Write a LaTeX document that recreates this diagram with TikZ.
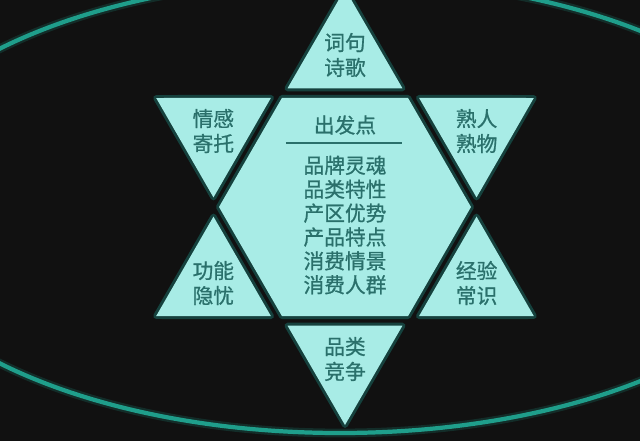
\documentclass[tikz,border=0pt]{standalone}
\usepackage{fontspec}
\setmainfont{Noto Sans CJK SC}[FakeBold=0.8]
\usetikzlibrary{calc}
\definecolor{bgcol}{HTML}{111111}
\definecolor{ringcol}{HTML}{1F9E8B}
\definecolor{starcol}{HTML}{A8ECE6}
\definecolor{glowcol}{HTML}{1B8A7F}
\definecolor{txtcol}{HTML}{2A706B}

\begin{document}
\begin{tikzpicture}[x=0.02cm, y=0.02cm]
			\tikzstyle{every node} = [font = \fontsize{11.8}{14.2}\selectfont, text = txtcol, align = center, inner sep = 0]
			\tikzstyle{piece} = [fill = starcol, preaction = {draw = glowcol, draw opacity = 0.4, line width = 3.4pt, line join = round}]
			\def\R{218} \def\r{126} \def\k{0.912}
				\fill[bgcol] (-345,-234) rectangle (295,207);
				\useasboundingbox (-345,-234) rectangle (295,207);
				\clip (-345,-234) rectangle (295,207);
				% ring
				\draw[ringcol, line width = 5pt, opacity = 0.2] (-5,1) ellipse [x radius = 472, y radius = 227];
				\draw[ringcol, line width = 2.4pt] (-5,1) ellipse [x radius = 472, y radius = 227];
				% hexagon corners and star tips
				\foreach \a in {0,60,...,300} \coordinate (h\a) at (\a:\r);
				\foreach \a in {30,90,...,330} \coordinate (t\a) at (\a:\R);
				\path[piece] (h0)--
					(h60)--
					(h120)--
					(h180)--
					(h240)--
					(h300)-- cycle;
				\foreach \a in {30,90,...,330} {
					\pgfmathtruncatemacro\lo{\a-30}
					\pgfmathtruncatemacro\hi{mod(\a+30,360)}
					\path[piece] ($(t\a)!\k!(h\lo)$)--
						(t\a)--
						($(t\a)!\k!(h\hi)$)-- cycle;
				}
				\foreach \a/\txt in {90/{词句\\诗歌}, 30/{熟人\\熟物}, 150/{情感\\寄托},
					210/{功能\\隐忧}, 330/{经验\\常识}, 270/{品类\\竞争}}
					\node (lab\a) at (\a:152) {\txt};
				\node (title) at (0,82) {出发点};
				\coordinate (sepl) at (-59,64);
				\coordinate (sepr) at (57,64);
				\path[draw, txtcol, line width = 0.7pt] (sepl)-- (sepr);
				\node[font = \fontsize{11.8}{13.6}\selectfont] (points) at (0,-18)
					{品牌灵魂\\品类特性\\产区优势\\产品特点\\消费情景\\消费人群};
\end{tikzpicture}
\end{document}
